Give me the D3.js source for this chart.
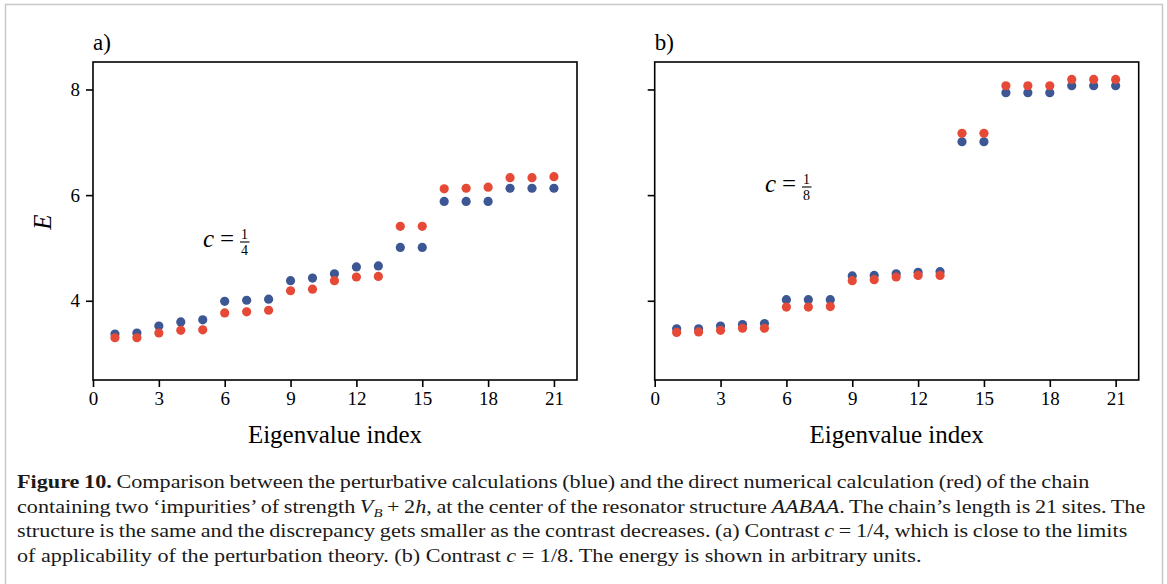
<!DOCTYPE html>
<html><head><meta charset="utf-8">
<script src="https://cdn.jsdelivr.net/npm/d3@7"></script>
<style>body{margin:0;background:#fff}svg{display:block}</style>
</head><body>
<svg id="c" width="1167" height="584"></svg>
<script>
const indices = d3.range(1, 22);
const blueA = [3.37,3.39,3.52,3.60,3.64,3.99,4.01,4.03,4.38,4.43,4.51,4.64,4.66,5.01,5.01,5.88,5.88,5.88,6.13,6.13,6.13];
const redA  = [3.30,3.30,3.39,3.44,3.45,3.77,3.79,3.82,4.19,4.22,4.38,4.45,4.46,5.41,5.41,6.12,6.13,6.15,6.33,6.33,6.35];
const blueB = [3.47,3.47,3.52,3.55,3.57,4.02,4.02,4.02,4.47,4.48,4.51,4.54,4.55,7.01,7.01,7.94,7.94,7.94,8.07,8.07,8.07];
const redB  = [3.40,3.41,3.44,3.48,3.48,3.88,3.88,3.89,4.38,4.40,4.45,4.48,4.48,7.17,7.17,8.07,8.07,8.07,8.19,8.19,8.19];
const xTicks = [0,3,6,9,12,15,18,21];
const yTicks = [4,6,8];
const panelLabels = ["a)", "b)"];
const contrastDen = ["4", "8"];
const xLabel = "Eigenvalue index";
const yLabel = "E";
const captionLines = [
  [["Figure 10.","b"],[" Comparison between the perturbative calculations (blue) and the direct numerical calculation (red) of the chain",""]],
  [["containing two \u2018impurities\u2019 of strength ",""],["V","i"],["B","sub"],[" + 2","n"],["h","i"],[", at the center of the resonator structure ",""],["AABAA","i"],[". The chain\u2019s length is 21 sites. The",""]],
  [["structure is the same and the discrepancy gets smaller as the contrast decreases. (a) Contrast ",""],["c","i"],[" = 1/4, which is close to the limits",""]],
  [["of applicability of the perturbation theory. (b) Contrast ",""],["c","i"],[" = 1/8. The energy is shown in arbitrary units.",""]]
];
const lineTargets = [1090, 1146, 1128, 922];

const BLUE = "#3c5793", RED = "#e64a36";
const SERIF = "'Liberation Serif','DejaVu Serif',serif";
const svg = d3.select("#c");

svg.append("rect").attr("x",5.5).attr("y",4.5).attr("width",1157).attr("height",600)
  .attr("fill","none").attr("stroke","#c8c8c8").attr("stroke-width",1.5);

const y = d3.scaleLinear().domain([2.5, 8.52]).range([380, 62]);
const panels = [
  {x0:93, x1:577, blue:blueA, red:redA, label:panelLabels[0], showY:true, ann:{x:203, y:247}, den:contrastDen[0]},
  {x0:654.7, x1:1138.7, blue:blueB, red:redB, label:panelLabels[1], showY:false, ann:{x:765, y:192}, den:contrastDen[1]}
];

panels.forEach(p => {
  const x = d3.scaleLinear().domain([0, 22.05]).range([p.x0, p.x1]);
  const g = svg.append("g");
  g.selectAll("circle.b").data(indices).join("circle").attr("class","b")
    .attr("cx", d => x(d)).attr("cy", (d,i) => y(p.blue[i])).attr("r", 4.6).attr("fill", BLUE);
  g.selectAll("circle.r").data(indices).join("circle").attr("class","r")
    .attr("cx", d => x(d)).attr("cy", (d,i) => y(p.red[i])).attr("r", 4.6).attr("fill", RED);
  const ax = g.append("g").attr("transform", "translate(0,380)")
    .call(d3.axisBottom(x).tickValues(xTicks).tickSize(7).tickPadding(5).tickSizeOuter(0));
  const ay = g.append("g").attr("transform", `translate(${p.x0},0)`)
    .call(d3.axisLeft(y).tickValues(yTicks).tickSize(7).tickPadding(6).tickSizeOuter(0)
      .tickFormat(p.showY ? d3.format("d") : () => ""));
  [ax, ay].forEach(a => {
    a.select(".domain").remove();
    a.selectAll(".tick line").attr("stroke","#000").attr("stroke-width",1.6);
    a.selectAll("text").attr("font-family", SERIF).attr("font-size", 19).attr("fill","#000");
  });
  g.append("rect").attr("x", p.x0).attr("y", 62).attr("width", p.x1 - p.x0).attr("height", 318)
    .attr("fill","none").attr("stroke","#000").attr("stroke-width",1.6);
  g.append("text").attr("x", p.x0).attr("y", 50).attr("font-family", SERIF).attr("font-size", 23)
    .text(p.label);
  g.append("text").attr("x", (p.x0 + p.x1)/2).attr("y", 443).attr("text-anchor","middle")
    .attr("font-family", SERIF).attr("font-size", 25).text(xLabel);
  // annotation c = 1/n
  const a = g.append("g").attr("font-family", SERIF);
  a.append("text").attr("x", p.ann.x).attr("y", p.ann.y).attr("font-size", 25)
    .attr("font-style","italic").text("c");
  a.append("text").attr("x", p.ann.x + 17).attr("y", p.ann.y).attr("font-size", 25).text("=");
  a.append("text").attr("x", p.ann.x + 41.5).attr("y", p.ann.y - 8).attr("font-size", 14)
    .attr("text-anchor","middle").text("1");
  a.append("text").attr("x", p.ann.x + 41.5).attr("y", p.ann.y + 7.8).attr("font-size", 14)
    .attr("text-anchor","middle").text(p.den);
  a.append("line").attr("x1", p.ann.x + 37).attr("x2", p.ann.x + 46.5).attr("y1", p.ann.y - 5).attr("y2", p.ann.y - 5)
    .attr("stroke","#000").attr("stroke-width",1.1);
});

svg.append("text").attr("transform","translate(51,222) rotate(-90)").attr("text-anchor","middle")
  .attr("font-family", SERIF).attr("font-size", 25).attr("font-style","italic").text(yLabel);

// caption: condense glyphs so the last line fits, then justify lines 1-3 with word spacing
const baselines = [488, 512.5, 537, 561.5];
const built = captionLines.map((line, li) => {
  const gl = svg.append("g");
  const t = gl.append("text").attr("x", 0).attr("y", 0).attr("font-family", SERIF).attr("font-size", 19.5).attr("fill","#1a1a1a");
  line.forEach(([s, st]) => {
    const ts = t.append("tspan").text(s);
    if (st === "b") ts.attr("font-weight","bold");
    if (st === "i") ts.attr("font-style","italic");
    if (st === "sub") ts.attr("font-style","italic").attr("font-size", 13).attr("dy", 4);
    if (st === "n") ts.attr("dy", -4);
  });
  return {gl, t, spaces: line.map(d => d[0]).join("").split(" ").length - 1};
});
const w4 = built[3].t.node().getComputedTextLength();
const s = (lineTargets[3] - 17) / w4;
built.forEach((b, li) => {
  if (li < 3) {
    const w = b.t.node().getComputedTextLength();
    const extra = ((lineTargets[li] - 17) / s - w) / b.spaces;
    b.t.attr("word-spacing", extra);
  }
  b.gl.attr("transform", `translate(17,${baselines[li]}) scale(${s},1)`);
});
</script>
</body></html>
